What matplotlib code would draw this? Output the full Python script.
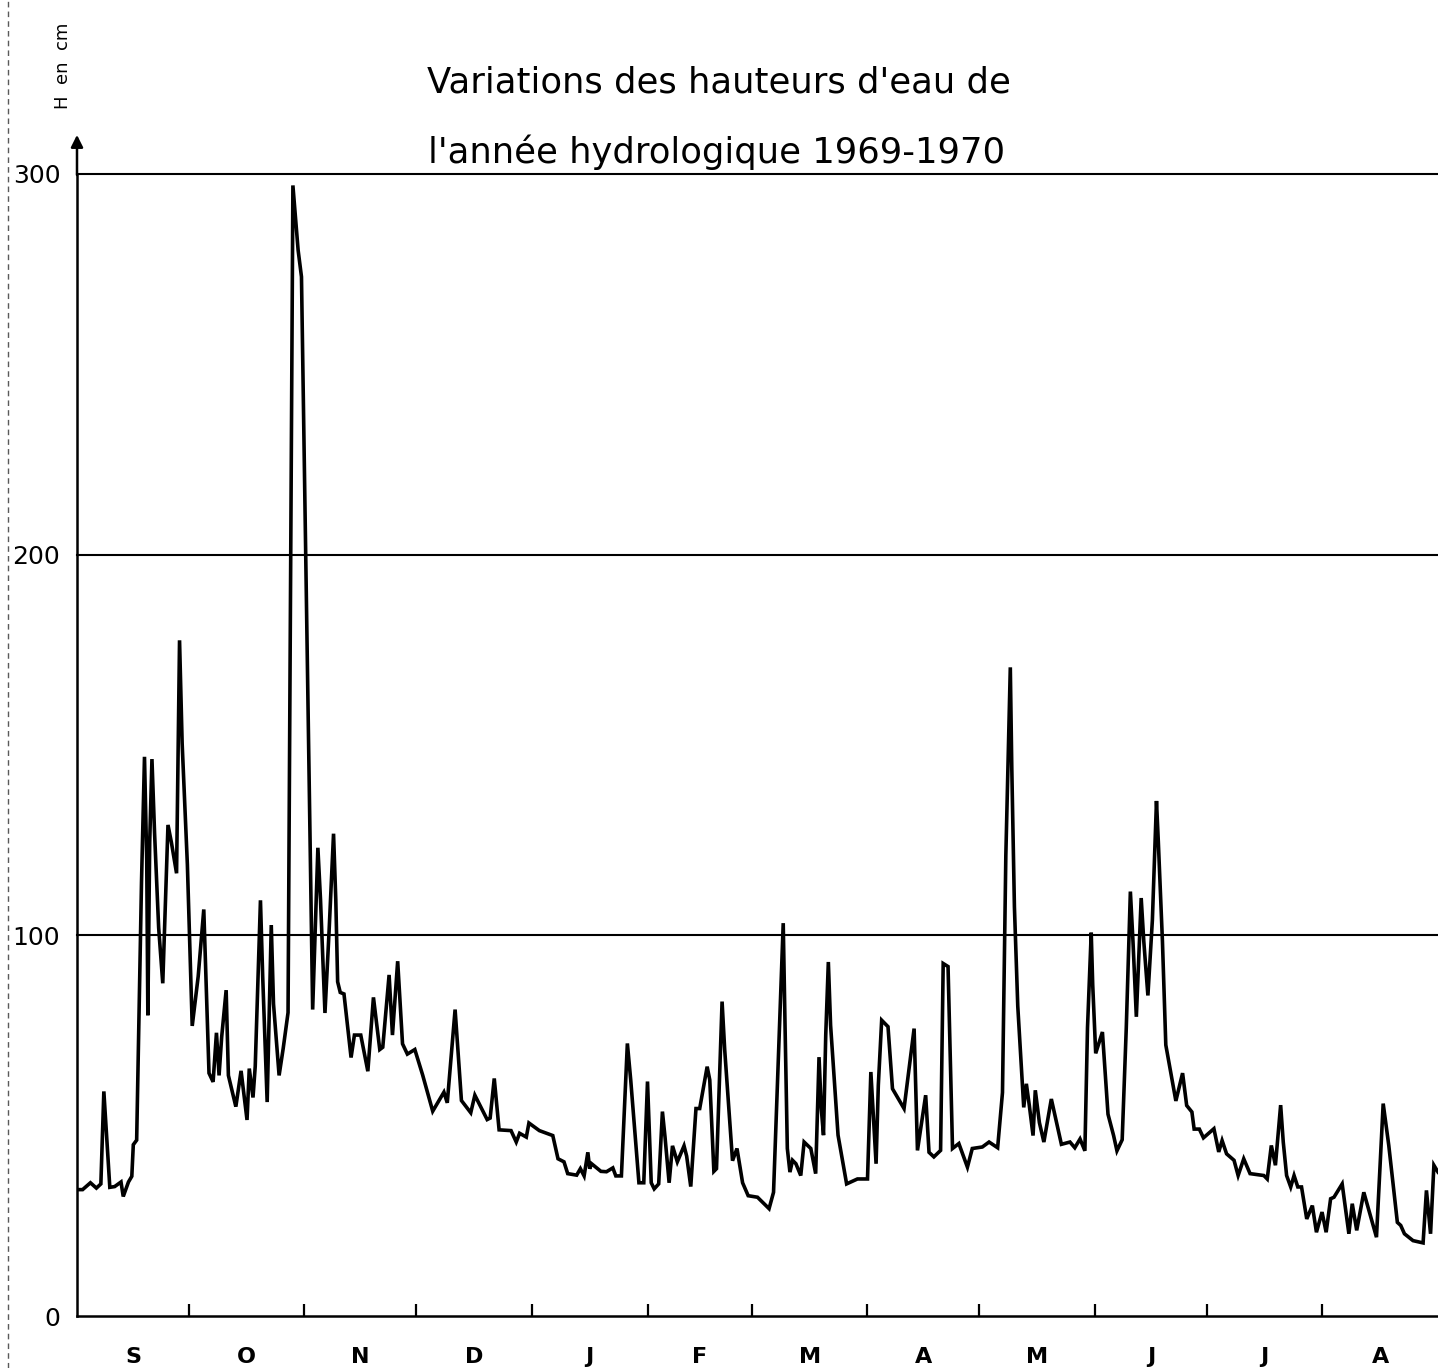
import matplotlib.pyplot as plt
from matplotlib.lines import Line2D

# ------------------------------------------------------------------
# Données (jour depuis le 1er septembre, H en cm)
# ------------------------------------------------------------------
jours = [
    0.2, 1.5, 3.6, 5.2, 6.4, 7.2, 7.9, 8.8, 10.1, 11.8, 12.4, 13.8, 14.7, 15.1, 16.0,
    16.6, 17.3, 18.1, 18.7, 19.0, 19.5, 20.1, 20.8, 21.9, 23.0, 24.4, 25.3, 26.7, 27.5,
    28.2, 29.6, 30.9, 32.5, 34.0, 35.4, 36.5, 37.4, 38.1, 38.8, 40.0, 40.6, 42.6, 44.0,
    45.6, 46.2, 47.2, 47.8, 49.2, 49.8, 51.0, 52.1, 52.7, 54.2, 55.3, 56.6, 57.9, 59.3,
    60.2, 63.2, 64.6, 65.3, 66.5, 67.6, 68.8, 69.4, 69.9, 70.6, 71.6, 73.5, 74.4, 76.1,
    78.0, 79.5, 81.2, 82.0, 83.7, 84.6, 86.0, 87.3, 88.6, 90.6, 92.7, 95.4, 98.4, 99.3,
    101.4, 103.1, 105.6, 106.7, 110.0, 110.8, 111.9, 113.2, 116.4, 117.8, 118.7, 120.5,
    121.2, 124.0, 127.6, 129.0, 130.6, 131.6, 134.0, 135.0, 136.0, 137.0, 137.5, 138.0,
    140.5, 142.0, 143.7, 144.5, 146.0, 147.6, 148.5, 150.7, 152.0, 153.0, 154.0, 154.8,
    156.0, 157.0, 157.7, 158.8, 159.7, 161.0, 162.8, 163.5, 164.6, 166.0, 167.0, 169.0,
    169.7, 170.8, 171.5, 173.0, 173.7, 175.8, 177.0, 178.5, 180.0, 182.5, 185.6, 186.8,
    188.7, 189.4, 189.9, 190.5, 191.2, 191.9, 192.8, 194.1, 195.0, 196.8, 198.1, 199.0,
    199.6, 200.2, 200.8, 201.5, 202.1, 204.1, 206.4, 209.3, 212.0, 212.9, 213.6, 214.3,
    214.9, 215.8, 217.5, 218.7, 221.8, 224.5, 225.4, 227.6, 228.5, 229.8, 231.6, 232.3,
    233.6, 234.8, 236.5, 238.8, 240.1, 242.8, 244.6, 246.9, 248.2, 249.1, 250.3, 250.7,
    251.4, 252.3, 253.9, 254.6, 255.4, 256.4, 257.0, 258.1, 259.3, 261.3, 264.0, 266.3,
    267.6, 269.0, 270.3, 271.0, 272.0, 272.4, 273.2, 275.0, 276.5, 278.0, 278.9, 280.3,
    281.4, 282.5, 283.2, 284.1, 285.4, 286.1, 287.2, 288.4, 289.5, 290.0, 291.1, 292.0,
    294.7, 296.5, 297.6, 299.0, 299.6, 301.0, 302.1, 304.9, 306.2, 307.1, 308.3, 310.3,
    311.4, 312.9, 314.6, 318.3, 319.2, 320.3, 321.4, 322.8, 323.5, 324.4, 325.5, 326.4,
    327.4, 328.4, 329.8, 331.3, 332.4, 333.9, 335.0, 336.2, 337.1, 339.3, 341.1, 342.0,
    343.2, 345.1, 348.5, 350.3, 351.8, 354.1, 355.0, 356.0, 358.3, 361.0, 361.9, 363.0,
    363.9, 365.0,
]
hauteurs = [
    33.2, 33.2, 35, 33.6, 34.7, 59, 48, 33.8, 34, 35.2, 31.4, 35.2, 36.7, 45, 46.2,
    77.4, 114, 146.9, 119.8, 79, 124.5, 146.3, 126.9, 102, 87.4, 129, 124.5, 116.3, 177.5,
    150.4, 118.6, 76.2, 89.2, 106.8, 63.8, 61.5, 74.4, 63.2, 73.3, 85.6, 63.2, 55, 64.4,
    51.5, 65, 57.4, 65.6, 109.2, 89.2, 56.2, 102.7, 82, 63.2, 70.3, 79.7, 297, 280,
    273, 80.5, 123, 109.5, 79.6, 101, 126.7, 109.5, 87.8, 85, 84.6, 67.9, 73.8, 73.8,
    64.3, 83.7, 70, 70.6, 89.6, 73.8, 93.2, 71.5, 68.8, 70, 63.3, 53.8, 58.8, 56,
    80.5, 56.6, 53.4, 58, 51.6, 52, 62.4, 48.9, 48.7, 45.7, 48, 47,
    50.7, 48.7, 47.4, 41.3, 40.5, 37.4, 37, 38.7, 36.8, 43, 38.7, 40,
    38, 37.9, 38.9, 36.8, 36.8, 71.6, 62, 35, 35, 61.6, 35, 33.4,
    34.7, 53.7, 47, 35, 44.7, 40.5, 44.7, 42, 34, 54.5, 54.5, 65.5,
    62, 38, 38.7, 82.6, 70, 40.8, 44, 35, 31.6, 31.2, 28.2, 32.5,
    84.3, 103.2, 75.5, 44, 37.8, 40.9, 40, 36.9, 45.7, 44, 37.4, 68,
    54.5, 47.5, 73.8, 93, 76.4, 47.5, 34.7, 36, 36, 64.1, 51.8, 40,
    60.6, 77.7, 76, 59.7, 54.5, 75.5, 43.5, 58, 43, 41.8, 43.5, 92.6,
    91.8, 44, 45.3, 39.1, 44, 44.4, 45.7, 44.2, 58.7, 121, 170.4, 143.8,
    107.5, 81.4, 54.8, 61, 55.3, 47.4, 59.3, 50.8, 45.7, 57, 45.1, 45.7,
    44.2, 46.5, 43.4, 75.7, 100.7, 87, 69, 74.6, 53, 47.4, 43.4, 46.3,
    75.7, 111.5, 98.4, 78.6, 109.8, 98.4, 84.2, 104, 135.3, 124.5, 98.4, 71.2,
    56.5, 63.8, 55.3, 53.6, 49.1, 49.1, 46.8, 49.2, 43.1, 46.1, 42.6, 40.9,
    36.9, 41.3, 37.4, 36.9, 36, 44.8, 39.6, 55.4, 45.7, 36.9, 33.9, 36.9,
    33.9, 33.9, 25.5, 29, 22, 27.3, 22, 30.8, 31.2, 34.7, 21.6, 29.5,
    22.5, 32.5, 20.7, 55.8, 44.8, 24.6, 23.8, 21.6, 19.8, 19.2, 33, 21.6,
    39.6, 37.8,
]

# limites des mois (jours depuis le 1er septembre) et initiales
limites_mois = [0, 30, 61, 91, 122, 153, 181, 212, 242, 273, 303, 334, 365]
mois = ['S', 'O', 'N', 'D', 'J', 'F', 'M', 'A', 'M', 'J', 'J', 'A']
niveaux = [100, 200, 300]
yticks = [0, 100, 200, 300]

# ------------------------------------------------------------------
# Figure
# ------------------------------------------------------------------
fig = plt.figure(figsize=(14.38, 13.68), dpi=100)
ax = fig.add_axes([77 / 1438, 1 - 1316 / 1368, 1361 / 1438, 1142 / 1368])

ax.plot(jours, hauteurs, color='black', lw=2.6, solid_joinstyle='miter')

for n in niveaux:
    ax.axhline(n, color='black', lw=1.5, clip_on=False)

ax.set_xlim(0, 365)
ax.set_ylim(0, 300)

for s in ['top', 'right']:
    ax.spines[s].set_visible(False)
ax.spines['left'].set_linewidth(1.8)
ax.spines['bottom'].set_linewidth(1.8)

# flèche de l'axe vertical
ax.annotate('', xy=(0, 311), xytext=(0, 299),
            arrowprops=dict(arrowstyle='-|>', color='black', lw=1.8,
                            mutation_scale=18),
            annotation_clip=False)

# axe des y
ax.set_yticks(yticks)
ax.set_yticklabels([str(v) for v in yticks], fontsize=18)
ax.tick_params(axis='y', length=0, pad=12)

# axe des x : traits aux limites, lettres au milieu des mois
ax.set_xticks(limites_mois[1:-1])
ax.set_xticklabels([])
ax.tick_params(axis='x', which='major', direction='in', length=9, width=1.6)
milieux = [(a + b) / 2 for a, b in zip(limites_mois[:-1], limites_mois[1:])]
ax.set_xticks(milieux, minor=True)
ax.set_xticklabels(mois, minor=True, fontsize=16, fontweight='bold')
ax.tick_params(axis='x', which='minor', length=0, pad=22)

# titres
fig.text(0.500, 0.940, "Variations des hauteurs d'eau de",
         ha='center', va='center', fontsize=25.5)
fig.text(0.498, 0.889, "l'année hydrologique 1969-1970",
         ha='center', va='center', fontsize=25.5)
fig.text(63 / 1438, 1 - 66 / 1368, 'H  en  cm', rotation=90,
         ha='center', va='center', fontsize=13)

# bord de la page scannée
fig.add_artist(Line2D([8 / 1438, 8 / 1438], [0, 1], color='0.35', lw=1,
                      linestyle=(0, (4, 3))))

fig.savefig('out.png', dpi=100)
